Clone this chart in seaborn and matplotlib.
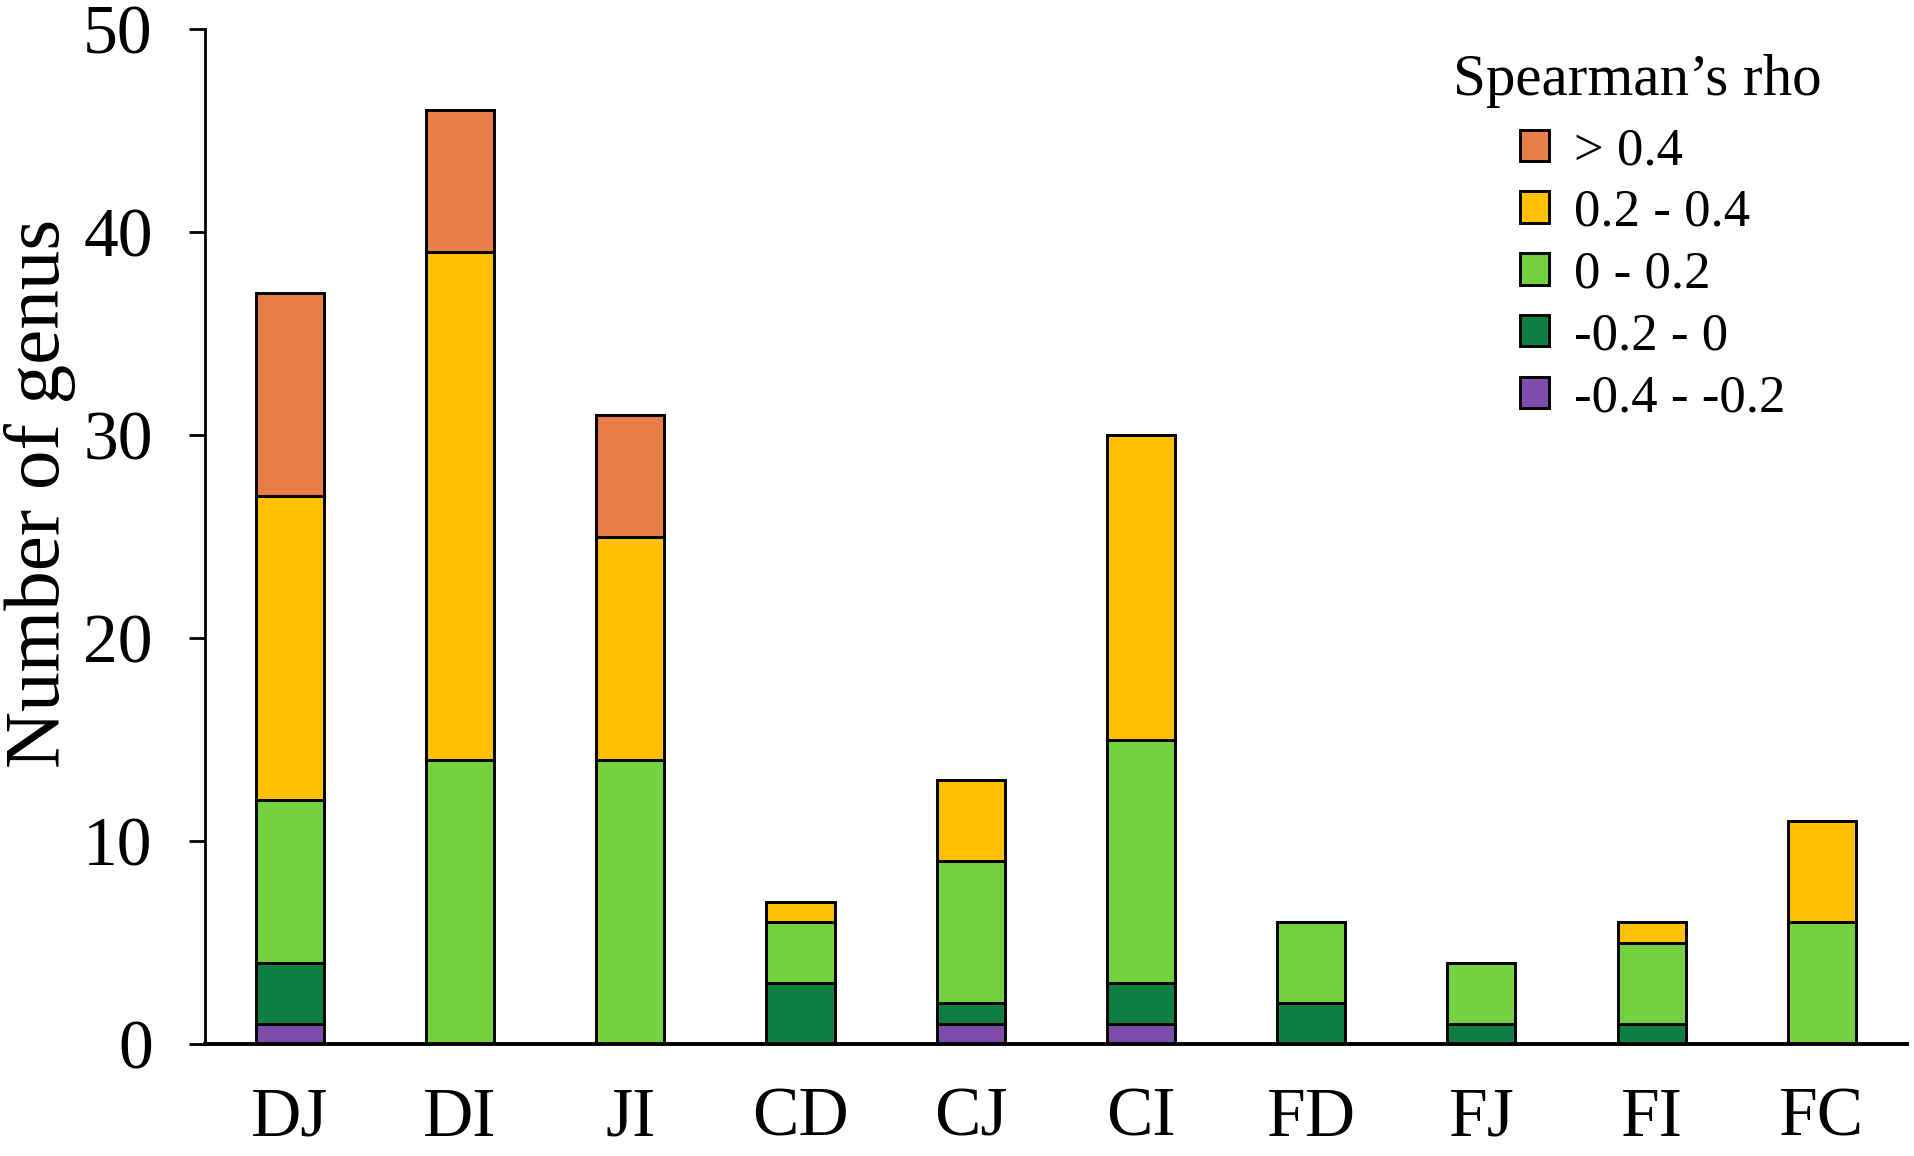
import pandas as pd
import matplotlib
matplotlib.use("Agg")
import matplotlib.pyplot as plt
from matplotlib.patches import Patch
import seaborn as sns

# ---- data ----
pairs = ["DJ", "DI", "JI", "CD", "CJ", "CI", "FD", "FJ", "FI", "FC"]
rho_classes = ["> 0.4", "0.2 - 0.4", "0 - 0.2", "-0.2 - 0", "-0.4 - -0.2"]

n_gt04 = [10, 7, 6, 0, 0, 0, 0, 0, 0, 0]
n_02_04 = [15, 25, 11, 1, 4, 15, 0, 0, 1, 5]
n_0_02 = [8, 14, 14, 3, 7, 12, 4, 3, 4, 6]
n_m02_0 = [3, 0, 0, 3, 1, 2, 2, 1, 1, 0]
n_m04_m02 = [1, 0, 0, 0, 1, 1, 0, 0, 0, 0]

colors = ["#E97D48", "#FFC000", "#72D13D", "#0E7F42", "#7F4CAB"]

# long-form table for seaborn
counts = [n_gt04, n_02_04, n_0_02, n_m02_0, n_m04_m02]
rows = []
for cls, vals in zip(rho_classes, counts):
    for p, v in zip(pairs, vals):
        rows.append({"pair": p, "rho": cls, "n": v})
df = pd.DataFrame(rows)

# =========================
# PLOT
# =========================
sns.set_theme(style="white")
plt.rcParams["font.family"] = ["Liberation Serif", "DejaVu Serif"]
plt.rcParams.update({"text.color": "black", "axes.labelcolor": "black",
                     "xtick.color": "black", "ytick.color": "black"})

fig, ax = plt.subplots(figsize=(19.14, 11.56), dpi=100)
fig.subplots_adjust(left=0.107, right=0.9963, bottom=0.0969, top=0.9747)

# bottom-up stacking: draw each class on top of the sum below it
bottom = [0] * len(pairs)
for cls in reversed(rho_classes):
    i = rho_classes.index(cls)
    sub = df[df["rho"] == cls]
    sns.barplot(data=sub, x="pair", y="n", order=pairs, color=colors[i],
                width=0.4, bottom=bottom, edgecolor="black", linewidth=2.1,
                saturation=1, errorbar=None, ax=ax)
    bottom = [b + v for b, v in zip(bottom, counts[i])]

ax.set_xlim(-0.5, 9.5)
ax.set_ylim(0, 50)
ax.set_yticks(range(0, 51, 10))
ax.set_xlabel("")
ax.set_ylabel("Number of genus", fontsize=57)
ax.yaxis.set_label_coords(-0.0758, 0.543)

for s in ["top", "right"]:
    ax.spines[s].set_visible(False)
ax.spines["left"].set_linewidth(2.0)
ax.spines["bottom"].set_linewidth(2.8)
ax.spines["left"].set_color("black")
ax.spines["bottom"].set_color("black")

ax.tick_params(axis="y", length=11.5, width=2.0, pad=26, labelsize=50,
               left=True, color="black")
ax.tick_params(axis="x", length=0, pad=31, labelsize=50)

# legend: title as its own text, entries below it
fig.text(1453 / 1914, 1 - 95 / 1156, "Spearman\u2019s rho", fontsize=42.5,
         ha="left", va="baseline")
handles = [Patch(facecolor=c, edgecolor="black", linewidth=2.1) for c in colors]
leg = ax.legend(handles, rho_classes,
                loc="upper left", bbox_to_anchor=(1520 / 1914, 0.8900),
                bbox_transform=fig.transFigure, frameon=False,
                fontsize=38, borderpad=0, borderaxespad=0,
                handlelength=0.54, handleheight=0.54, handletextpad=0.49,
                labelspacing=0.26)

fig.savefig("out.png", dpi=100)
